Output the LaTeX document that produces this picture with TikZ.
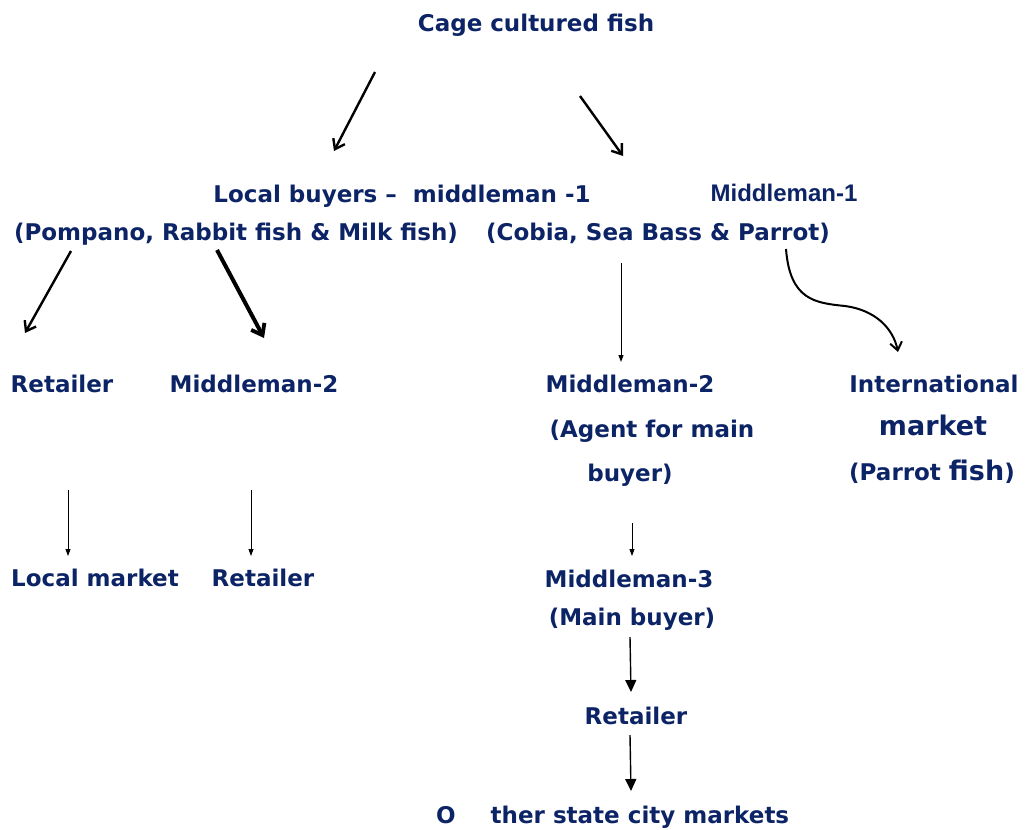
\documentclass[tikz,border=0pt]{standalone}
\usepackage{fontspec}
\setmainfont{DejaVu Sans}
\newfontfamily\altfont{Liberation Sans}
\usetikzlibrary{arrows.meta}
\definecolor{navy}{RGB}{12,36,102}
\begin{document}
\begin{tikzpicture}[x=1pt,y=-1pt,
  lbl/.style={text=navy,font=\bfseries\fontsize{23}{27}\selectfont,inner sep=0pt,anchor=base},
  sketch/.style={line width=2.4pt,-{Straight Barb[length=9pt,width=13pt,line width=2.4pt]}},
  sketchbold/.style={line width=4pt,-{Straight Barb[length=10pt,width=15pt,line width=3.8pt]}},
  thinarrow/.style={line width=0.8pt,-{Triangle[length=7pt,width=5pt]}},
  midarrow/.style={line width=1.4pt,-{Triangle[length=12pt,width=11pt]}}]
\useasboundingbox (0,0) rectangle (1026,830);
% texts
\node[lbl] (cage) at (536,31) {Cage cultured fish};
\node[lbl] (local) at (402,202) {Local buyers –\ \ middleman -1};
\node[lbl,font=\altfont\bfseries\fontsize{24}{28}\selectfont] (mid1) at (784,201) {Middleman-1};
\node[lbl] (pomp) at (236,240) {(Pompano, Rabbit fish \& Milk fish)};
\node[lbl] (cobia) at (658,240) {(Cobia, Sea Bass \& Parrot)};
\node[lbl] (ret1) at (62,392) {Retailer};
\node[lbl] (midA) at (254,392) {Middleman-2};
\node[lbl] (midB) at (630,392) {Middleman-2};
\node[lbl] (agent) at (652,437) {(Agent for main};
\node[lbl] (buyer) at (630,481) {buyer)};
\node[lbl] (intl) at (934,392) {International};
\node[lbl,font=\bfseries\fontsize{27}{30}\selectfont] (mkt) at (933,435) {market};
\node[lbl] (parrot) at (932,480) {(Parrot {\fontsize{27}{30}\selectfont fish})};
\node[lbl] (lmkt) at (95,586) {Local market};
\node[lbl] (ret2) at (263,586) {Retailer};
\node[lbl] (mid3) at (629,587) {Middleman-3};
\node[lbl] (main) at (632,625) {(Main buyer)};
\node[lbl] (ret3) at (636,724) {Retailer};
\node[lbl,anchor=base west] (other) at (436,823) {O\hspace{35pt}ther state city markets};
% arrow end points
\coordinate (a1s) at (375,72);  \coordinate (a1e) at (334,151);
\coordinate (a2s) at (580,96);  \coordinate (a2e) at (623,156);
\coordinate (a3s) at (71,251);  \coordinate (a3e) at (25,333);
\coordinate (a4s) at (217,250); \coordinate (a4e) at (264,338);
\coordinate (a5s) at (621,263); \coordinate (a5e) at (621,362);
\coordinate (a6s) at (786,249); \coordinate (a6m) at (845,306); \coordinate (a6e) at (898,352);
\coordinate (a7s) at (68,490);  \coordinate (a7e) at (68,556);
\coordinate (a8s) at (251,490); \coordinate (a8e) at (251,556);
\coordinate (a9s) at (632,523); \coordinate (a9e) at (632,556);
\coordinate (a10s) at (630,637); \coordinate (a10e) at (631,692);
\coordinate (a11s) at (630,735); \coordinate (a11e) at (631,791);
% arrows
\draw[sketch] (a1s) -- (a1e);
\draw[sketch] (a2s) -- (a2e);
\draw[sketch] (a3s) -- (a3e);
\draw[sketchbold] (a4s) -- (a4e);
\draw[thinarrow,line width=1pt] (a5s) -- (a5e);
\draw[line width=2pt,-{Straight Barb[length=8pt,width=12pt,line width=2pt]}]
  (a6s) .. controls (790,300) and (815,303) .. (a6m) .. controls (875,310) and (893,328) .. (a6e);
\draw[thinarrow] (a7s) -- (a7e);
\draw[thinarrow] (a8s) -- (a8e);
\draw[thinarrow] (a9s) -- (a9e);
\draw[midarrow] (a10s) -- (a10e);
\draw[midarrow] (a11s) -- (a11e);
\end{tikzpicture}
\end{document}
